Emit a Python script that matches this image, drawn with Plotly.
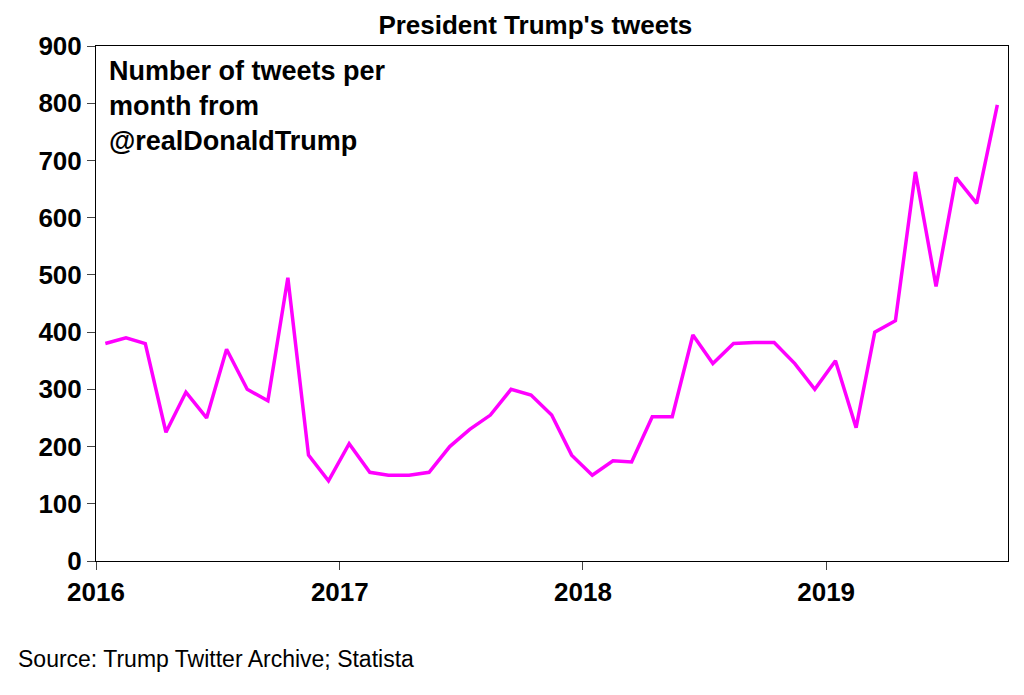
import plotly.graph_objects as go
import pandas as pd

months = pd.date_range("2016-01-01", periods=45, freq="MS") + pd.Timedelta(days=14)
tweets = [380, 390, 380, 225, 295, 250, 370, 300, 280, 495, 185, 140,
          205, 155, 150, 150, 155, 200, 230, 255, 300, 290, 255, 185,
          150, 175, 173, 252, 252, 395, 345, 380, 382, 382, 345, 300,
          350, 233, 400, 420, 680, 480, 670, 625, 797]
year_ticks = ["2016-01-01", "2017-01-01", "2018-01-01", "2019-01-01"]
year_labels = ["2016", "2017", "2018", "2019"]

F = "Liberation Sans, Arial, sans-serif"
fig = go.Figure(go.Scatter(x=months, y=tweets, mode="lines",
                           line=dict(color="#FF00FF", width=3.5)))
fig.update_layout(
    width=1024, height=695, plot_bgcolor="white", paper_bgcolor="white",
    margin=dict(l=88, r=24, t=38, b=142), showlegend=False,
    title=dict(text="<b>President Trump's tweets</b>", x=0.515, xanchor="center",
               y=0.975, yanchor="middle", font=dict(family=F, size=26, color="black")),
    font=dict(family=F, color="black"),
)
fig.update_xaxes(range=["2016-01-01", "2019-10-01"], tickvals=year_ticks, ticktext=year_labels,
                 ticks="outside", ticklen=8, showline=True, linecolor="black", linewidth=1,
                 mirror=True, showgrid=False,
                 tickfont=dict(family=F, size=26, color="black", weight="bold"))
fig.update_yaxes(range=[0, 900], dtick=100, ticks="outside", ticklen=8, showline=True,
                 linecolor="black", linewidth=1, mirror=True, showgrid=False,
                 tickfont=dict(family=F, size=26, color="black", weight="bold"))
fig.add_annotation(text="<b>Number of tweets per<br>month from<br>@realDonaldTrump</b>",
                   xref="paper", yref="paper", x=0.012, y=0.985, xanchor="left", yanchor="top",
                   showarrow=False, align="left", font=dict(family=F, size=27, color="black"))
fig.add_annotation(text="Source: Trump Twitter Archive; Statista", xref="paper", yref="paper",
                   x=-0.088, y=-0.19, xanchor="left", yanchor="middle", showarrow=False,
                   font=dict(family=F, size=23, color="black"))
fig.write_html("out.html")
